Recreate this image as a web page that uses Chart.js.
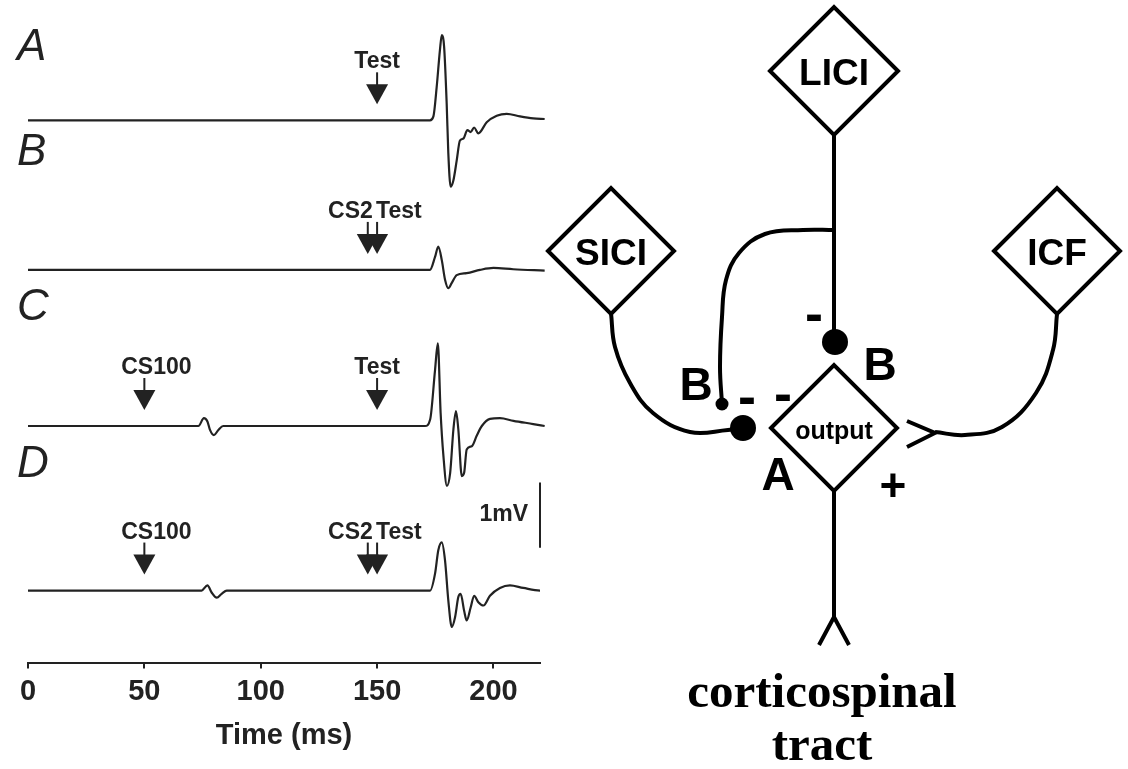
<!DOCTYPE html>
<html lang="en">
<head>
<meta charset="UTF-8">
<title>MEP traces and inhibitory circuit</title>
<script src="https://cdn.jsdelivr.net/npm/chart.js@4.4.0/dist/chart.umd.min.js"></script>
<style>
  html, body { margin: 0; padding: 0; background: #fff; }
  body { width: 1128px; height: 769px; position: relative; overflow: hidden; }
  #traces { position: absolute; left: 0; top: 0; }
  #circuit { position: absolute; left: 530px; top: 0; }
</style>
</head>
<body>
<canvas id="traces" width="560" height="769"></canvas>
<canvas id="circuit" width="598" height="769"></canvas>
<script>
// ---- left panel: EMG sweeps, time in ms, amplitude in mV ----
var xTicks = [0, 50, 100, 150, 200];
var traceNames = ['A', 'B', 'C', 'D'];
var traceOffsets = [-1.85, -4.15, -6.55, -9.08];   // baseline of each sweep (mV)

var traceA = [[0,0],[172.7,0],[174.2,0.06],[175.6,0.51],[177.0,1.08],[177.8,1.31],[178.8,1.13],
  [179.9,0.26],[180.6,-0.5],[181.6,-1.02],[182.8,-0.92],[184.2,-0.62],[185.6,-0.31],[187.1,-0.28],
  [188.8,-0.15],[190.2,-0.18],[191.7,-0.11],[193.5,-0.2],[197.1,-0.03],[201.4,0.07],[205.7,0.1],
  [211.4,0.06],[217.1,0.03],[222,0.02]];
var traceB = [[0,0],[172.7,0],[174.9,0.2],[176.3,0.36],[177.8,0.15],[179.2,-0.15],[180.6,-0.28],
  [182.1,-0.2],[184.2,-0.08],[188.5,-0.05],[194.2,0],[200,0.03],[208.5,0.01],[222,-0.01]];
var traceC = [[0,0],[73.2,0],[75.6,0.12],[77.1,0.07],[78.2,-0.06],[79.9,-0.14],[81.8,-0.06],[83.9,0],
  [170.6,0],[172.8,0.1],[174.9,0.86],[176.1,1.27],[177.3,0.2],[178.5,-0.46],[180,-0.92],[181.4,-0.72],
  [182.8,-0.05],[183.9,0.23],[184.9,-0.05],[186.4,-0.77],[187.4,-0.72],[188.5,-0.36],[190.7,-0.31],
  [192.8,-0.15],[195,0],[198.5,0.11],[202.8,0.12],[208.6,0.08],[217.1,0.03],[222,0]];
var traceD = [[0,0],[74.6,0],[77.1,0.08],[78.9,-0.03],[81.1,-0.11],[83.2,-0.05],[85.4,0],
  [172.8,0],[174.9,0.26],[176.3,0.62],[177.8,0.74],[179.2,0.46],[180.6,-0.15],[182.1,-0.56],
  [183.5,-0.41],[184.9,-0.1],[185.9,-0.05],[187.4,-0.31],[188.5,-0.46],[190.2,-0.26],[191.7,-0.08],
  [193.5,-0.18],[195.7,-0.23],[198.5,-0.08],[202.8,0.04],[207.1,0.08],[212.8,0.04],[220,0],[222,0]];

// stimuli: which sweep, when (ms), name
var stimTrace = [0, 1, 1, 2, 2, 3, 3, 3];
var stimTime  = [150, 146, 150, 50, 150, 50, 146, 150];
var stimLabel = ['Test', 'CS2', 'Test', 'CS100', 'Test', 'CS100', 'CS2', 'Test'];

var scaleBarTime = 220;
var scaleBarTop = -7.42;   // 1 mV calibration bar
var scaleBarLength = 1;

// ---- right panel: circuit diagram ----
var nodeNames = ['LICI', 'SICI', 'ICF', 'output'];
var nodeX = [834, 611, 1057, 834];
var nodeY = [71, 251, 251, 428];
var nodeSize = [64, 63, 63, 63];

var synapseX = [835, 743, 722];
var synapseY = [342, 428, 404];
var synapseSize = [13, 13, 6.5];

var pathLiciStem = [[834,135],[834,342]];
var pathLiciBranch = [[834,230],[803,230],[765,234],[739,253],[726,280],[722,317],[720,367],[722,404]];
var pathSici = [[611,313],[615,347],[630,383],[653,413],[690,432],[728,430],[743,428]];
var pathIcf = [[1057,314],[1053,350],[1036,393],[1002,427],[965,435],[935,432]];
var pathOutput = [[834,490],[834,617]];
var arrowTract = [[819,645],[834,617],[849,645]];
var arrowIcf = [[907,421],[935,433],[907,447]];

var INK = '#222';

function toXY(arr, off) {
  return arr.map(function (p) { return { x: p[0], y: p[1] + (off || 0) }; });
}

var sweepDecor = {
  id: 'sweepDecor',
  afterDatasetsDraw: function (chart) {
    var ctx = chart.ctx, xs = chart.scales.x, ys = chart.scales.y;
    ctx.save();
    ctx.fillStyle = INK;
    // sweep letters
    ctx.font = 'italic 44px "Liberation Sans", Arial, sans-serif';
    ctx.textAlign = 'left';
    ctx.textBaseline = 'alphabetic';
    var letterY = [60, 165, 320, 477];
    for (var i = 0; i < traceNames.length; i++) ctx.fillText(traceNames[i], 17, letterY[i]);

    // stimulus arrows
    ctx.font = 'bold 23px "Liberation Sans", Arial, sans-serif';
    for (var k = 0; k < stimTime.length; k++) {
      var x = xs.getPixelForValue(stimTime[k]);
      var y0 = ys.getPixelForValue(traceOffsets[stimTrace[k]]);
      ctx.fillRect(x - 1, y0 - 48, 2, 14);
      ctx.beginPath();
      ctx.moveTo(x - 11, y0 - 36);
      ctx.lineTo(x + 11, y0 - 36);
      ctx.lineTo(x, y0 - 16);
      ctx.closePath();
      ctx.fill();
      var lab = stimLabel[k];
      var paired = k > 0 && stimTrace[k - 1] === stimTrace[k] && stimLabel[k - 1] === 'CS2';
      if (lab === 'CS2') {
        ctx.textAlign = 'right';
        ctx.fillText(lab, x + 5, y0 - 52);
      } else if (lab === 'Test' && paired) {
        ctx.textAlign = 'left';
        ctx.fillText(lab, x - 1, y0 - 52);
      } else if (lab === 'CS100') {
        ctx.textAlign = 'center';
        ctx.fillText(lab, x + 12, y0 - 52);
      } else {
        ctx.textAlign = 'center';
        ctx.fillText(lab, x, y0 - 52);
      }
    }

    // calibration label
    var bx = xs.getPixelForValue(scaleBarTime);
    var by = ys.getPixelForValue(scaleBarTop - scaleBarLength / 2);
    ctx.textAlign = 'right';
    ctx.textBaseline = 'middle';
    ctx.fillText('1mV', bx - 12, by);
    ctx.restore();
  }
};

var sweepSets = [traceA, traceB, traceC, traceD].map(function (tr, i) {
  return {
    data: toXY(tr, traceOffsets[i]),
    borderColor: INK,
    borderWidth: 2.2,
    pointRadius: 0,
    cubicInterpolationMode: 'monotone',
    clip: false
  };
});
sweepSets.push({
  data: [{ x: scaleBarTime, y: scaleBarTop }, { x: scaleBarTime, y: scaleBarTop - scaleBarLength }],
  borderColor: INK,
  borderWidth: 2,
  pointRadius: 0,
  clip: false
});

new Chart(document.getElementById('traces'), {
  type: 'line',
  data: { datasets: sweepSets },
  options: {
    responsive: false,
    animation: false,
    layout: { padding: { left: 28, right: 20, top: 0, bottom: 16 } },
    plugins: { legend: { display: false }, tooltip: { enabled: false } },
    scales: {
      x: {
        type: 'linear',
        min: 0,
        max: 220,
        afterBuildTicks: function (s) { s.ticks = xTicks.map(function (v) { return { value: v }; }); },
        border: { display: true, color: INK, width: 2 },
        grid: { drawOnChartArea: false, drawTicks: true, tickLength: 5, color: INK, lineWidth: 2 },
        ticks: { color: INK, padding: 6, maxRotation: 0, font: { family: '"Liberation Sans", Arial, sans-serif', size: 29, weight: 'bold' } },
        title: { display: true, text: 'Time (ms)', color: INK, padding: { top: 3, bottom: 0 },
          font: { family: '"Liberation Sans", Arial, sans-serif', size: 29, weight: 'bold' } }
      },
      y: { type: 'linear', display: false, min: -10.2, max: 0 }
    }
  },
  plugins: [sweepDecor]
});

// ---- circuit ----
var circuitText = {
  id: 'circuitText',
  afterDatasetsDraw: function (chart) {
    var ctx = chart.ctx, xs = chart.scales.x, ys = chart.scales.y;
    ctx.save();
    ctx.fillStyle = '#000';
    ctx.textAlign = 'center';
    ctx.textBaseline = 'middle';
    for (var i = 0; i < nodeNames.length; i++) {
      ctx.font = (i === 3 ? 'bold 25px' : 'bold 37px') + ' "Liberation Sans", Arial, sans-serif';
      ctx.fillText(nodeNames[i], xs.getPixelForValue(nodeX[i]), ys.getPixelForValue(nodeY[i] + 4));
    }
    var marks = [['-', 814, 317], ['-', 747, 400], ['-', 783, 397],
                 ['B', 880, 367], ['B', 696, 387], ['A', 778, 477], ['+', 893, 488]];
    marks.forEach(function (m) {
      ctx.font = (m[0] === '-' ? 'bold 54px' : 'bold 46px') + ' "Liberation Sans", Arial, sans-serif';
      ctx.fillText(m[0], xs.getPixelForValue(m[1]), ys.getPixelForValue(m[2]));
    });
    ctx.textBaseline = 'alphabetic';
    ctx.font = 'bold 49px "Liberation Serif", "Times New Roman", serif';
    ctx.fillText('corticospinal', xs.getPixelForValue(822), ys.getPixelForValue(707));
    ctx.fillText('tract', xs.getPixelForValue(822), ys.getPixelForValue(760));
    ctx.restore();
  }
};

function pathSet(arr, tension) {
  return {
    data: toXY(arr),
    showLine: true,
    borderColor: '#000',
    borderWidth: 4,
    pointRadius: 0,
    tension: tension,
    borderJoinStyle: 'miter'
  };
}

var circuitSets = [
  {
    data: nodeX.map(function (x, i) { return { x: x, y: nodeY[i] }; }),
    pointStyle: 'rectRot',
    pointRadius: nodeSize,
    backgroundColor: '#fff',
    borderColor: '#000',
    borderWidth: 4
  },
  {
    data: synapseX.map(function (x, i) { return { x: x, y: synapseY[i] }; }),
    pointStyle: 'circle',
    pointRadius: synapseSize,
    backgroundColor: '#000',
    borderColor: '#000',
    borderWidth: 0
  },
  pathSet(pathLiciStem, 0),
  pathSet(pathLiciBranch, 0.4),
  pathSet(pathSici, 0.4),
  pathSet(pathIcf, 0.4),
  pathSet(pathOutput, 0),
  pathSet(arrowTract, 0),
  pathSet(arrowIcf, 0)
];

new Chart(document.getElementById('circuit'), {
  type: 'scatter',
  data: { datasets: circuitSets },
  options: {
    responsive: false,
    animation: false,
    layout: { padding: 0, autoPadding: false },
    plugins: { legend: { display: false }, tooltip: { enabled: false } },
    scales: {
      x: { type: 'linear', display: false, min: 530, max: 1128 },
      y: { type: 'linear', display: false, min: 0, max: 769, reverse: true }
    }
  },
  plugins: [circuitText]
});
</script>
</body>
</html>
